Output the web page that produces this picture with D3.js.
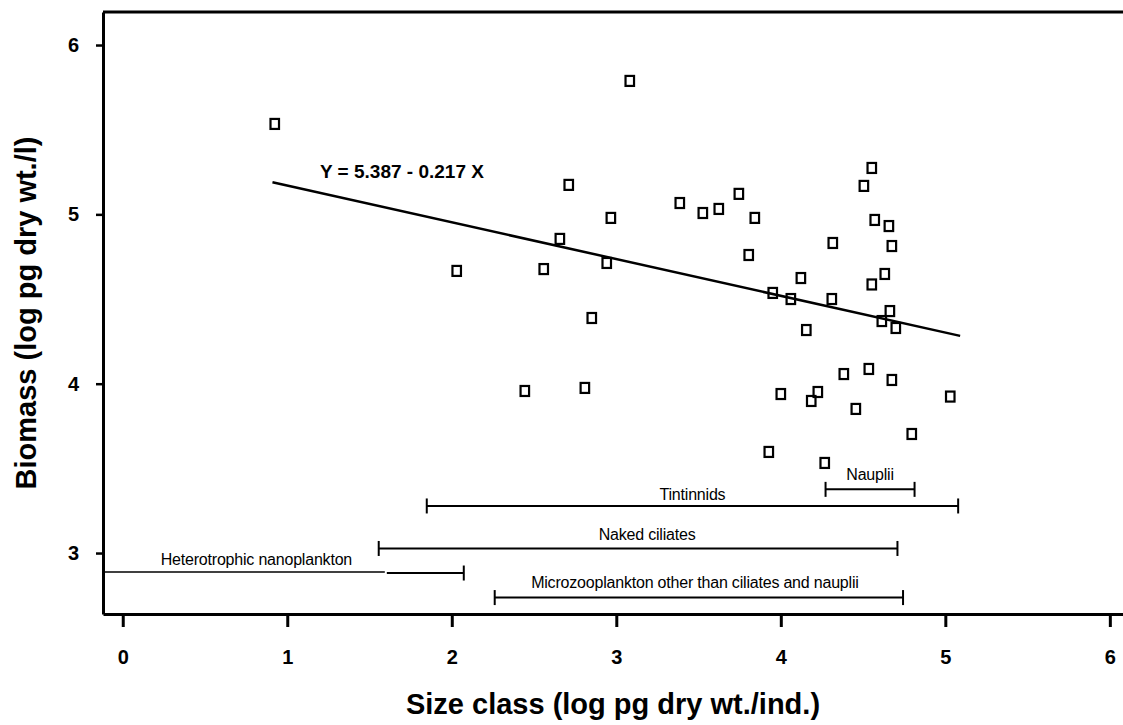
<!DOCTYPE html>
<html>
<head>
<meta charset="utf-8">
<script src="https://cdn.jsdelivr.net/npm/d3@7/dist/d3.min.js"></script>
<style>
  html, body { margin: 0; padding: 0; background: #fff; }
  svg { display: block; }
  text { font-family: "Liberation Sans", Arial, Helvetica, sans-serif; fill: #000; }
</style>
</head>
<body>
<svg id="chart" width="1123" height="725"></svg>
<script>
// ---------------- data ----------------
const xTickValues = [0, 1, 2, 3, 4, 5, 6];
const yTickValues = [3, 4, 5, 6];

// size class (log pg dry wt./ind.)
const sizeClass = [
  0.924, 3.082, 2.711, 3.386, 2.967, 3.526, 3.623, 3.745, 3.842, 2.657,
  4.553, 4.505, 4.571, 4.657, 4.316, 4.675, 3.805, 2.030, 2.559, 2.942,
  3.951, 2.851, 2.444, 2.809, 4.000, 3.927, 4.122, 4.553, 4.632, 4.061,
  4.310, 4.663, 4.614, 4.699, 4.155, 4.383, 4.535, 4.675, 4.225, 4.185,
  4.456, 5.030, 4.796, 4.267
];
// biomass (log pg dry wt./l)
const biomass = [
  5.534, 5.788, 5.174, 5.067, 4.979, 5.008, 5.032, 5.121, 4.979, 4.855,
  5.274, 5.168, 4.967, 4.931, 4.831, 4.813, 4.760, 4.666, 4.677, 4.713,
  4.536, 4.388, 3.957, 3.975, 3.939, 3.597, 4.624, 4.586, 4.648, 4.500,
  4.500, 4.429, 4.370, 4.329, 4.317, 4.057, 4.087, 4.022, 3.951, 3.898,
  3.851, 3.924, 3.703, 3.532
];

// regression Y = 5.387 - 0.217 X
const regIntercept = 5.387;
const regSlope = -0.217;
const regXRange = [0.91, 5.09];
const regLabel = "Y = 5.387 - 0.217 X";

// size ranges of the plankton groups
const groupNames = ["Nauplii", "Tintinnids", "Naked ciliates", "Heterotrophic nanoplankton", "Microzooplankton other than ciliates and nauplii"];
const groupMin   = [4.272, 1.848, 1.556, 1.593, 2.261];
const groupMax   = [4.813, 5.078, 4.709, 2.073, 4.743];
const groupLevel = [3.376, 3.278, 3.027, 2.882, 2.737];
const groupOpenLeft = [false, false, false, true, false]; // range continues below the axis

const xTitle = "Size class (log pg dry wt./ind.)";
const yTitle = "Biomass (log pg dry wt./l)";

// ---------------- layout ----------------
const W = 1123, H = 725;
const plot = { left: 103, right: 1123, top: 12, bottom: 614 };

const x = d3.scaleLinear().domain([-0.12, 6.08]).range([plot.left, plot.right]);
const y = d3.scaleLinear().domain([2.64, 6.195]).range([plot.bottom, plot.top]);

const svg = d3.select("#chart");
svg.append("rect").attr("width", W).attr("height", H).attr("fill", "#fff");

// top frame line
svg.append("line")
  .attr("x1", plot.left).attr("x2", plot.right)
  .attr("y1", plot.top).attr("y2", plot.top)
  .attr("stroke", "#000").attr("stroke-width", 3);

// left axis
const yAxis = svg.append("g")
  .attr("transform", `translate(${plot.left},0)`)
  .call(d3.axisLeft(y).tickValues(yTickValues).tickFormat(d3.format("d"))
        .tickSize(7).tickSizeOuter(0).tickPadding(17));
yAxis.select(".domain").attr("stroke", "#000").attr("stroke-width", 3);
yAxis.selectAll(".tick line").attr("stroke", "#000").attr("stroke-width", 2.5);
yAxis.selectAll(".tick text")
  .attr("font-family", "'Liberation Sans', Arial, sans-serif")
  .attr("font-size", 20).attr("font-weight", "bold").attr("fill", "#000");

// bottom axis
const xAxis = svg.append("g")
  .attr("transform", `translate(0,${plot.bottom})`)
  .call(d3.axisBottom(x).tickValues(xTickValues).tickFormat(d3.format("d"))
        .tickSize(13).tickSizeOuter(0).tickPadding(23));
xAxis.select(".domain").attr("stroke", "#000").attr("stroke-width", 3);
xAxis.selectAll(".tick line").attr("stroke", "#000").attr("stroke-width", 3);
xAxis.selectAll(".tick text")
  .attr("font-family", "'Liberation Sans', Arial, sans-serif")
  .attr("font-size", 20).attr("font-weight", "bold").attr("fill", "#000");

// axis titles
svg.append("text")
  .attr("x", (plot.left + plot.right) / 2).attr("y", 714)
  .attr("text-anchor", "middle")
  .attr("font-size", 29).attr("font-weight", "bold")
  .text(xTitle);

svg.append("text")
  .attr("transform", `translate(36,${(plot.top + plot.bottom) / 2}) rotate(-90)`)
  .attr("text-anchor", "middle")
  .attr("font-size", 29).attr("font-weight", "bold")
  .text(yTitle);

// regression line
const reg = regXRange.map(v => [v, regIntercept + regSlope * v]);
svg.append("path")
  .attr("d", d3.line().x(d => x(d[0])).y(d => y(d[1]))(reg))
  .attr("fill", "none").attr("stroke", "#000").attr("stroke-width", 2.5);

svg.append("text")
  .attr("x", 320).attr("y", 178)
  .attr("font-size", 19).attr("font-weight", "bold")
  .text(regLabel);

// points
const pts = sizeClass.map((v, i) => [v, biomass[i]]);
const sqW = 8.5, sqH = 10;
svg.append("g").selectAll("rect")
  .data(pts).join("rect")
  .attr("x", d => x(d[0]) - sqW / 2)
  .attr("y", d => y(d[1]) - sqH / 2)
  .attr("width", sqW).attr("height", sqH)
  .attr("fill", "none").attr("stroke", "#000").attr("stroke-width", 2.2);

// group size ranges
const capH = 7.5;
const groups = groupNames.map((n, i) => ({
  name: n, min: groupMin[i], max: groupMax[i], level: groupLevel[i], open: groupOpenLeft[i]
}));
const labelDx = [0, 0, 9, 0, -4];
const labelDy = [-9, -6, -8, -8, -10];

const gg = svg.append("g");
groups.forEach((g, i) => {
  const yy = y(g.level);
  if (g.open) {
    gg.append("line")
      .attr("x1", plot.left).attr("x2", x(g.min))
      .attr("y1", yy - 1).attr("y2", yy - 1)
      .attr("stroke", "#000").attr("stroke-width", 1.3);
  }
  gg.append("line")
    .attr("x1", x(g.min) + (g.open ? 2 : 0)).attr("x2", x(g.max))
    .attr("y1", yy).attr("y2", yy)
    .attr("stroke", "#000").attr("stroke-width", 2);
  if (!g.open) {
    gg.append("line")
      .attr("x1", x(g.min)).attr("x2", x(g.min))
      .attr("y1", yy - capH).attr("y2", yy + capH)
      .attr("stroke", "#000").attr("stroke-width", 2);
  }
  gg.append("line")
    .attr("x1", x(g.max)).attr("x2", x(g.max))
    .attr("y1", yy - capH).attr("y2", yy + capH)
    .attr("stroke", "#000").attr("stroke-width", 2);

  const left = g.open ? plot.left : x(g.min);
  const cx = g.open ? (left + x(g.max)) / 2 - 27 : (left + x(g.max)) / 2 + labelDx[i];
  gg.append("text")
    .attr("x", cx).attr("y", yy + labelDy[i])
    .attr("text-anchor", "middle")
    .attr("font-size", 16)
    .attr("letter-spacing", "-0.2px")
    .text(g.name);
});
</script>
</body>
</html>
